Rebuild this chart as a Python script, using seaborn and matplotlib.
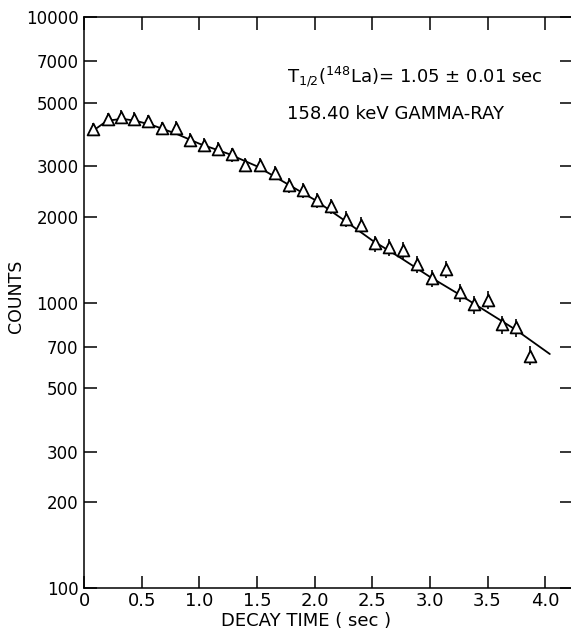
import matplotlib
matplotlib.use("Agg")
import matplotlib.pyplot as plt
import seaborn as sns
import pandas as pd

# measured points (decay time in sec, counts, error)
decay_time = [0.081, 0.206, 0.318, 0.436, 0.558, 0.676, 0.800, 0.922, 1.043, 1.160,
              1.280, 1.400, 1.526, 1.657, 1.780, 1.900, 2.018, 2.140, 2.270, 2.400,
              2.520, 2.645, 2.764, 2.890, 3.016, 3.137, 3.264, 3.385, 3.507, 3.628,
              3.744, 3.868]
counts = [4050, 4390, 4480, 4410, 4310, 4080, 4100, 3710, 3560, 3450,
          3300, 3035, 3043, 2840, 2570, 2470, 2280, 2170, 1965, 1875,
          1610, 1565, 1525, 1365, 1215, 1310, 1085, 985, 1020, 838,
          818, 652]
count_err = [220, 230, 235, 230, 225, 215, 215, 200, 195, 190,
             185, 175, 175, 165, 155, 150, 140, 135, 125, 120,
             105, 105, 100, 95, 85, 90, 78, 72, 74, 62,
             60, 50]

# fitted curve
fit_time = [0.08, 0.20, 0.33, 0.45, 0.60, 0.80, 1.00, 1.25, 1.50, 1.75,
            2.00, 2.25, 2.50, 2.75, 3.00, 3.25, 3.50, 3.75, 4.04]
fit_counts = [4000, 4330, 4400, 4330, 4170, 3900, 3600, 3320, 3000, 2620,
              2290, 1950, 1650, 1430, 1230, 1070, 925, 800, 660]

x_ticks = [0, 0.5, 1.0, 1.5, 2.0, 2.5, 3.0, 3.5, 4.0]
x_labels = ["0", "0.5", "1.0", "1.5", "2.0", "2.5", "3.0", "3.5", "4.0"]
y_ticks = [100, 200, 300, 500, 700, 1000, 2000, 3000, 5000, 7000, 10000]

df = pd.DataFrame({"t": decay_time, "counts": counts, "err": count_err})
fit_df = pd.DataFrame({"t": fit_time, "counts": fit_counts})

sns.set_style("ticks")
plt.rcParams["font.family"] = ["DejaVu Sans"]
plt.rcParams.update({"text.color": "black", "axes.labelcolor": "black",
                     "xtick.color": "black", "ytick.color": "black"})

fig = plt.figure(figsize=(5.71, 6.33), dpi=100)
ax = fig.add_axes([84 / 571, 45 / 633, 487.5 / 571, 571 / 633])

sns.lineplot(data=fit_df, x="t", y="counts", color="black", linewidth=1.3, ax=ax, zorder=2)
ax.errorbar(df["t"], df["counts"], yerr=df["err"], fmt="none", ecolor="black",
            elinewidth=1.2, capsize=0, zorder=3)
sns.scatterplot(data=df, x="t", y="counts", marker="^", s=72, color="white",
                edgecolor="black", linewidth=1.3, ax=ax, zorder=4)

ax.set_yscale("log")
ax.set_xlim(0, 487.5 / 115.3)
ax.set_ylim(100, 10000)
ax.set_xticks(x_ticks)
ax.set_xticklabels(x_labels)
ax.set_yticks(y_ticks)
ax.set_yticklabels([str(v) for v in y_ticks])
ax.minorticks_off()
ax.tick_params(which="major", direction="in", length=9, width=1.1,
               top=True, right=True, labelsize=12, pad=4, colors="black")
ax.tick_params(axis="x", labelsize=13, pad=3)

for s in ax.spines.values():
    s.set_linewidth(1.1)
    s.set_color("black")

ax.set_xlabel("DECAY TIME ( sec )", fontsize=13)
ax.set_ylabel("COUNTS", fontsize=12.5)
ax.xaxis.set_label_coords(0.456, -0.042)
ax.yaxis.set_label_coords(-0.121, 0.51)

ax.text(0.417, 0.895, r"T$_{1/2}$($^{148}$La)= 1.05 ± 0.01 sec", transform=ax.transAxes,
        fontsize=13, va="center", ha="left")
ax.text(0.417, 0.830, "158.40 keV GAMMA-RAY", transform=ax.transAxes,
        fontsize=13, va="center", ha="left")

fig.savefig("out.png", dpi=100)
